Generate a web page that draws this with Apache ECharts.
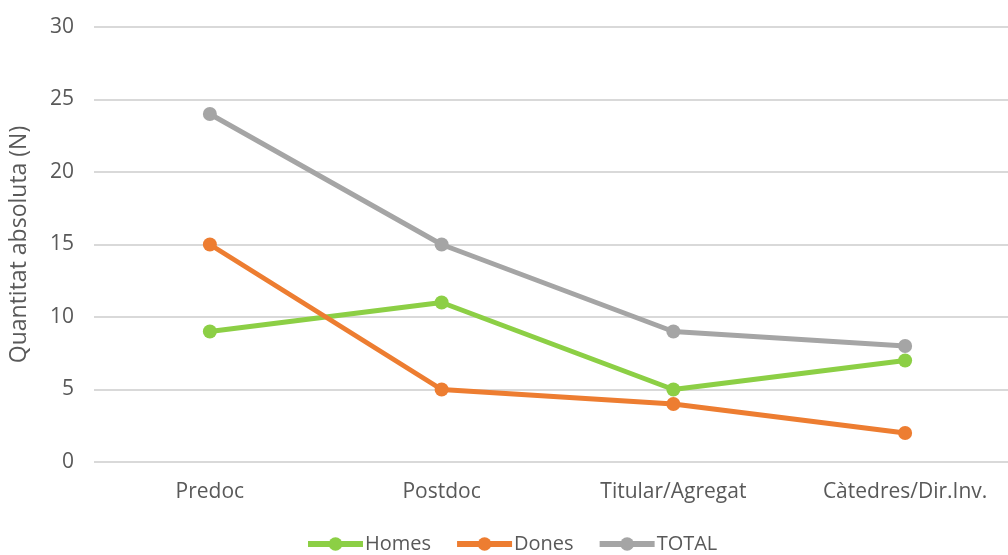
<!DOCTYPE html>
<html><head><meta charset="utf-8">
<script src="https://cdn.jsdelivr.net/npm/echarts@6/dist/echarts.min.js"></script>
<style>html,body{margin:0;padding:0;background:#fff;overflow:hidden;width:1008px;height:555px}#c{width:1021px;height:555px}</style>
</head><body><div id="c"></div>
<script>
const categories = ['Predoc', 'Postdoc', 'Titular/Agregat', 'Càtedres/Dir.Inv.'];
const homes = [9, 11, 5, 7];
const dones = [15, 5, 4, 2];
const total = [24, 15, 9, 8];
const yTicks = {min: 0, max: 30, interval: 5};

const chart = echarts.init(document.getElementById('c'));
const font = '"Open Sans", "Noto Sans", sans-serif';
function s(name, data, color) {
  return {name, type: 'line', data, color, symbol: 'circle', symbolSize: 14,
    lineStyle: {width: 5, color}, itemStyle: {color}, emphasis: {disabled: true}};
}
chart.setOption({
  animation: false,
  textStyle: {fontFamily: font},
  grid: {left: 92, right: 0, top: 27, bottom: 93, containLabel: false},
  legend: {top: 534, left: 305, padding: [0, 0, 0, 0], itemWidth: 55, itemHeight: 17, itemGap: 23,
    lineStyle: {width: 6},
    textStyle: {color: '#595959', fontSize: 20, fontFamily: font, padding: [0, 0, 0, -3]},
    data: ['Homes', 'Dones', 'TOTAL']},
  xAxis: {type: 'category', data: categories, boundaryGap: true,
    axisLine: {show: false}, axisTick: {show: false},
    axisLabel: {color: '#595959', fontSize: 21, margin: 20}},
  yAxis: {type: 'value', min: yTicks.min, max: yTicks.max, interval: yTicks.interval,
    name: 'Quantitat absoluta (N)', nameLocation: 'middle', nameGap: 63, nameRotate: 90,
    nameTextStyle: {color: '#595959', fontSize: 23},
    axisLabel: {color: '#595959', fontSize: 21, margin: 20},
    splitLine: {lineStyle: {color: '#d9d9d9', width: 2}}},
  series: [s('Homes', homes, '#8ccf45'), s('Dones', dones, '#ed7d31'), s('TOTAL', total, '#a5a5a5')]
});
</script></body></html>
